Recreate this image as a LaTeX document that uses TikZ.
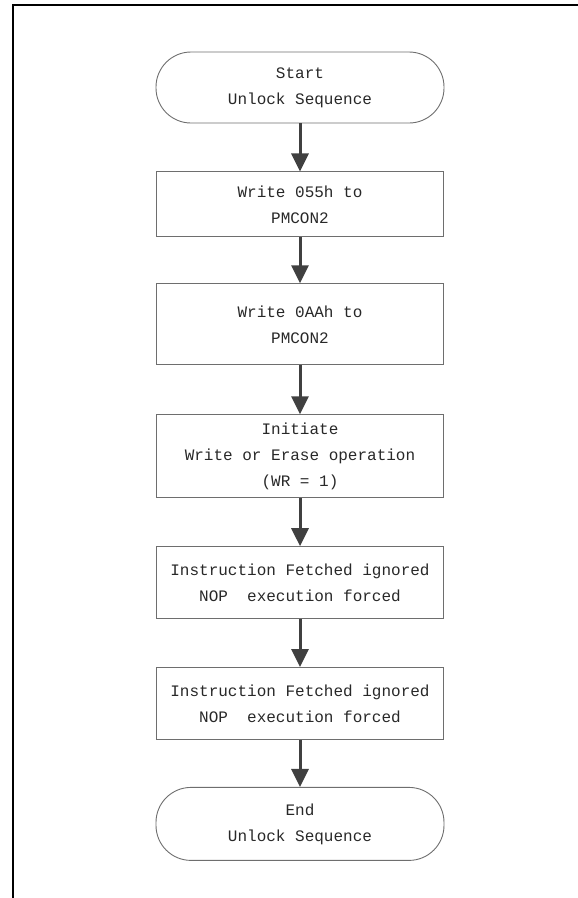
\documentclass[tikz,border=0pt]{standalone}
\usepackage{fontspec}
\usepackage{tikz}
\usetikzlibrary{arrows.meta, positioning}
\usepackage{xcolor}
\newfontfamily\flowfont{Liberation Mono}
\definecolor{boxgray}{RGB}{110,110,110}
\definecolor{arrowgray}{RGB}{64,64,64}
\definecolor{textgray}{RGB}{40,40,40}

\begin{document}
\begin{tikzpicture}[
        x=1pt, y=-1pt,
        node distance=48pt,
        font=\flowfont\fontsize{16}{26}\selectfont,
        stepbox/.style={rectangle, draw=boxgray, line width=0.9pt, minimum width=287pt, minimum height=#1, align=center, text=textgray, inner sep=0pt},
        stepbox/.default=72pt,
        terminal/.style={rectangle, draw=boxgray, line width=0.9pt, rounded corners=35pt, minimum width=288pt, minimum height=71pt, align=center, text=textgray, inner sep=0pt},
        arrow/.style={-{Triangle[length=18pt, width=17pt]}, line width=3pt, arrowgray}
    ]
        \useasboundingbox (0,0) rectangle (578,898);

        % Frame
        \draw[line width=2.2pt, black] (13,898) -- (13,5) -- (578,5);

        % Unlock steps
        \node[terminal] (start) at (300,87.5) {Start\\Unlock Sequence};
        \node[stepbox=65pt, below=of start] (w55) {Write 055h to\\PMCON2};
        \node[stepbox=81pt, below=46pt of w55] (wAA) {Write 0AAh to\\PMCON2};
        \node[stepbox=83pt, below=49pt of wAA] (init) {Initiate\\Write or Erase operation\\(WR = 1)};
        \node[stepbox, below=of init] (nop1) {Instruction Fetched ignored\\NOP\ \ execution forced};
        \node[stepbox, below=of nop1] (nop2) {Instruction Fetched ignored\\NOP\ \ execution forced};
        \node[terminal, minimum height=73pt, below=47pt of nop2] (finish) {End\\Unlock Sequence};

        % Arrows
        \draw[arrow] (start) -- (w55);
        \draw[arrow] (w55) -- (wAA);
        \draw[arrow] (wAA) -- (init);
        \draw[arrow] (init) -- (nop1);
        \draw[arrow] (nop1) -- (nop2);
        \draw[arrow] (nop2) -- (finish);
    \end{tikzpicture}
\end{document}
